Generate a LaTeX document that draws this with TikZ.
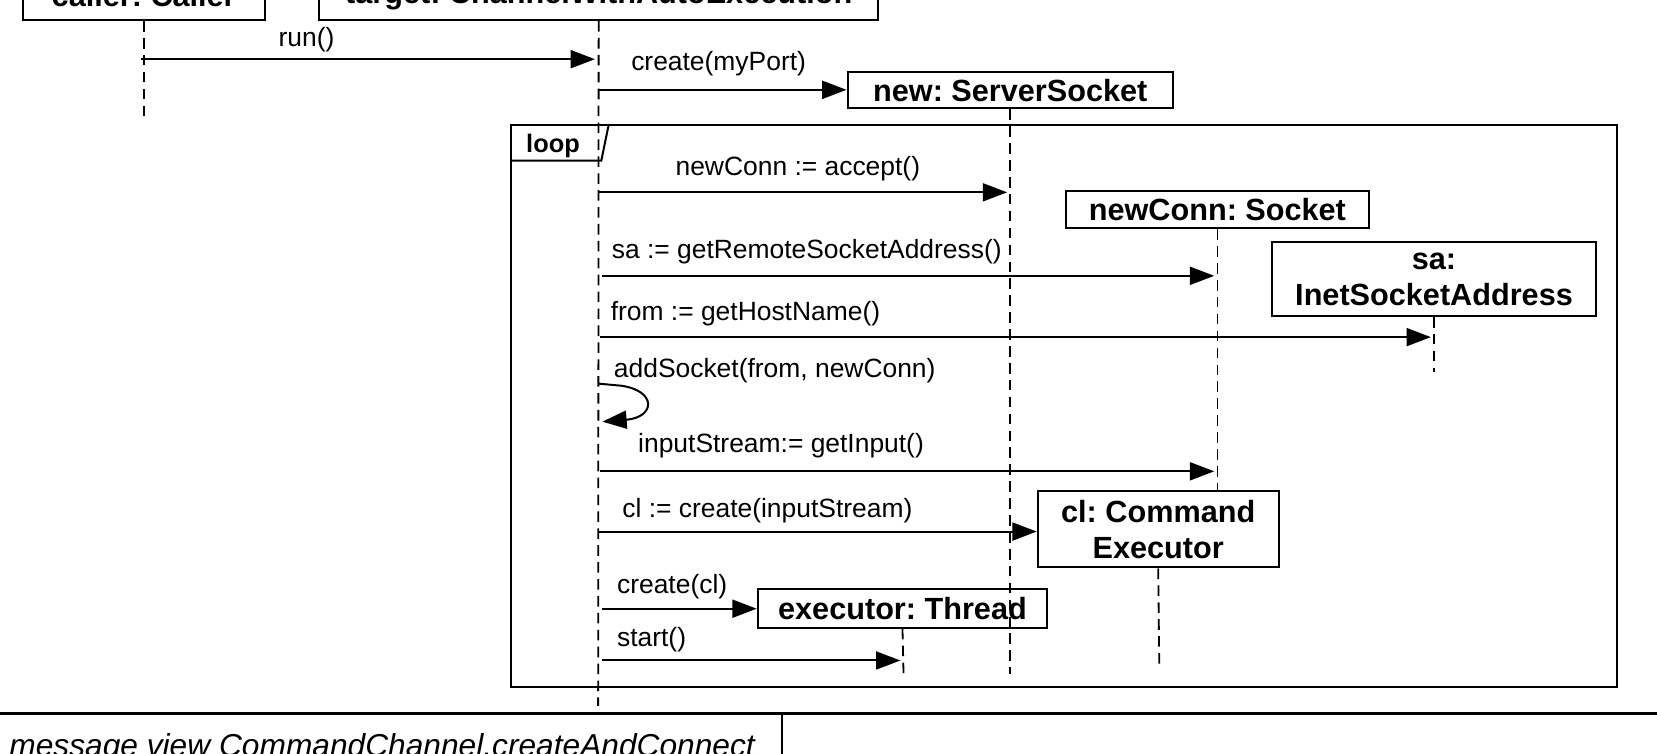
\documentclass[tikz,border=0pt]{standalone}
\usepackage{fontspec}
\setmainfont{Liberation Sans}
\frenchspacing
\usetikzlibrary{arrows.meta}
\begin{document}
\begin{tikzpicture}[x=1pt,y=-1pt,
  line width=1.9pt,
  obj/.style={draw,fill=white,line width=1.9pt,inner sep=0pt,align=center,
    font=\fontsize{29}{34}\selectfont\bfseries},
  life/.style={line width=1.7pt,dash pattern=on 10pt off 6pt},
  msg/.style={line width=1.9pt,-{Triangle[length=23pt,width=17pt]}},
  lbl/.style={inner sep=0pt,font=\fontsize{25}{30}\selectfont},
  frame/.style={line width=1.9pt}]
\useasboundingbox (0,0) rectangle (1568,713);
\clip (0,0) rectangle (1568,713);

% participants
\node[obj,minimum width=229pt,minimum height=46pt] (caller) at (136,-4) {caller: Caller};
\node[obj,minimum width=529pt,minimum height=46pt] (target) at (566.5,-4) {target: ChannelWithAutoExecution};

% lifeline end points
\coordinate (callerEnd) at (136,110);
\coordinate (targetEnd) at (566,668);
\coordinate (serverEnd) at (956,638);
\coordinate (execEnd) at (855,638);
\coordinate (clEnd) at (1097,630);
\coordinate (saEnd) at (1357,352);

% loop fragment
\draw[frame] (484,118) rectangle (1530,650);
\draw[frame] (484,152) -- (569,152) -- (576,118);
\node[inner sep=0pt,anchor=base west,font=\fontsize{24}{28}\selectfont\bfseries] (looplbl) at (497,144) {loop};

% objects created on the way
\node[obj,minimum width=308pt,minimum height=34pt] (server) at (956,85.5) {new: ServerSocket};
\node[obj,minimum width=286pt,minimum height=35pt] (sock) at (1152,198.5) {newConn: Socket};
\node[obj,minimum width=306pt,minimum height=70pt] (sa) at (1357,264) {sa:\\InetSocketAddress};
\node[obj,minimum width=228pt,minimum height=72pt] (cl) at (1096,501) {cl: Command\\Executor};
\node[obj,minimum width=274pt,minimum height=37pt] (exec) at (854,575.5) {executor: Thread};

% lifelines
\draw[life] (caller.south) -- (callerEnd);
\draw[life] (target.south) -- (targetEnd);
\draw[life] (server.south) -- (serverEnd);
\draw[life] (sock.south) -- (cl.north -| sock.south);
\draw[life] (sa.south) -- (saEnd);
\draw[life] (cl.south) -- (clEnd);
\draw[life] (exec.south) -- (execEnd);

% message end points on the lifelines
\coordinate (runS) at (133,56);   \coordinate (runE) at (563,56);
\coordinate (crS) at (566,85);
\coordinate (accS) at (566,182);  \coordinate (accE) at (953,182);
\coordinate (remS) at (570,261);  \coordinate (remE) at (1149,261);
\coordinate (hostS) at (568,319); \coordinate (hostE) at (1354,319);
\coordinate (selfS) at (566,363); \coordinate (selfE) at (570,399);
\coordinate (inS) at (568,446);   \coordinate (inE) at (1149,446);
\coordinate (clS) at (566,503);
\coordinate (thS) at (570,576);
\coordinate (stS) at (570,625);   \coordinate (stE) at (852,625);

% messages
\draw[msg] (runS) -- (runE);
\node[lbl,anchor=base] (l1) at (290,44) {run()};
\draw[msg] (crS) -- (server.west |- crS);
\node[lbl,anchor=base] (l2) at (680,67) {create(myPort)};
\draw[msg] (accS) -- (accE);
\node[lbl,anchor=base] (l3) at (755,166) {newConn := accept()};
\draw[msg] (remS) -- (remE);
\node[lbl,anchor=base west] (l4) at (578,245) {sa := getRemoteSocketAddress()};
\draw[msg] (hostS) -- (hostE);
\node[lbl,anchor=base west] (l5) at (577,303) {from := getHostName()};
\draw[msg] (selfS) -- (588,365) .. controls (622,370) and (620,395) .. (selfE);
\node[lbl,anchor=base west] (l6) at (580,357) {addSocket(from, newConn)};
\draw[msg] (inS) -- (inE);
\node[lbl,anchor=base west] (l7) at (603,428) {inputStream:= getInput()};
\draw[msg] (clS) -- (cl.west |- clS);
\node[lbl,anchor=base west] (l8) at (588,490) {cl := create(inputStream)};
\draw[msg] (thS) -- (exec.west |- thS);
\node[lbl,anchor=base west] (l9) at (583,562) {create(cl)};
\draw[msg] (stS) -- (stE);
\node[lbl,anchor=base west] (l10) at (583,612) {start()};

% diagram name tab
\draw[line width=2.6pt] (0,675) -- (1568,675);
\draw[line width=1.9pt] (740,675) -- (740,720);
\node[inner sep=0pt,anchor=base west,font=\fontsize{30}{36}\selectfont\itshape] (title) at (8,716) {message view CommandChannel.createAndConnect};
\end{tikzpicture}
\end{document}
